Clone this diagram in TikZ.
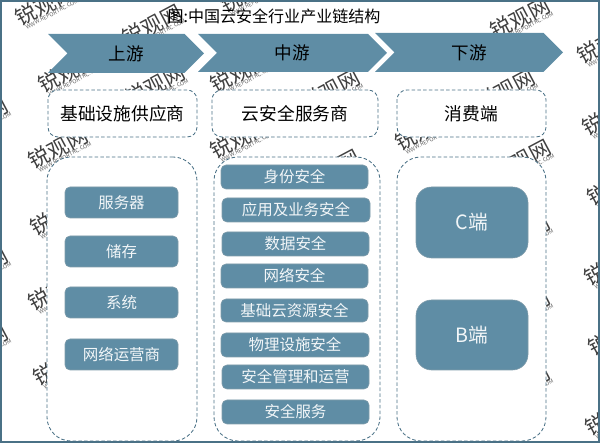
\documentclass[tikz,border=0pt]{standalone}
\usepackage{fontspec}
\usepackage{tikz}
\usetikzlibrary{
	shapes.symbols
}
\setmainfont{Noto Sans CJK SC}
\definecolor{steel}{HTML}{5F8DA5}
\definecolor{edgeblue}{HTML}{4A7186}
\tikzset{
	x=0.025cm,y=-0.025cm,
	stage/.style={signal,signal to=east,signal from=west,fill=steel,inner sep=0pt,font=\fontsize{12.5}{12.5}\selectfont},
	panel/.style={draw=edgeblue,dash pattern=on 2.5pt off 1.6pt,line width=0.6pt,fill=white,rounded corners=7pt,inner sep=0pt},
	tallpanel/.style={panel,rounded corners=17pt},
	item/.style={draw=edgeblue!70,fill=steel,rounded corners=3.5pt,text=white!92!steel,inner sep=0pt,font=\fontsize{11}{11}\selectfont},
	bigitem/.style={item,rounded corners=11pt,font=\fontsize{14}{14}\selectfont},
	wmark/.style={rotate=28,font=\fontsize{15}{15}\selectfont,text=black!75,inner sep=0pt},
	wurl/.style={rotate=28,font=\fontsize{4}{4}\selectfont,text=black!60,inner sep=0pt},
}
\newcommand{\boxat}[7][item]{\node[#1,minimum width=(#4-#2)*0.025cm,minimum height=(#5-#3)*0.025cm] (#6) at ({(#2+#4)/2},{(#3+#5)/2}) {#7};}
\begin{document}
\begin{tikzpicture}
		\useasboundingbox (0,0) rectangle (600,444);
		% watermark
		\foreach \wx/\wy [count=\i] in {45/5,152/25,68/72,58/148,250/-8,240/72,240/138,155/85,520/18,330/90,505/90,425/130,521/160,330/170,607/43,612/115,617/185,614/265,618/335,615/415,520/235,520/310,520/385,60/215,58/290,63/365,-22/118,-22/268,-22/345,245/205,245/280}{
			\node[wmark] (wm\i) at (\wx,\wy) {锐观网};
			\node[wurl] (wu\i) at ([shift={(7,9)}]wm\i.center) {WWW.REPORTRC.COM};
		}
		\draw[edgeblue,line width=1.4pt] (1,1) rectangle (599,442);
		% stages
		\boxat[stage]{48}{34}{204}{73}{up}{上游}
		\boxat[stage]{198}{34}{387}{72}{mid}{中游}
		\boxat[stage]{375}{33}{563}{72}{down}{下游}
		% tier one
		\boxat[panel]{48}{90}{197}{137}{supply}{\fontsize{12.6}{12.6}\selectfont 基础设施供应商}
		\boxat[panel]{212}{90}{378}{137}{service}{\fontsize{12.6}{12.6}\selectfont 云安全服务商}
		\boxat[panel]{397}{90}{546}{137}{consumer}{\fontsize{12.6}{12.6}\selectfont 消费端}
		% tier two
		\boxat[tallpanel]{47}{157}{197}{441}{left}{}
		\boxat[tallpanel]{214}{157}{380}{441}{centre}{}
		\boxat[tallpanel]{397}{157}{546}{441}{right}{}
		% upstream
		\boxat{65}{187}{178}{218}{a1}{服务器}
		\boxat{65}{236}{178}{267}{a2}{储存}
		\boxat{65}{287}{178}{318}{a3}{系统}
		\boxat{65}{339}{178}{370}{a4}{网络运营商}
		% midstream
		\boxat{221}{165}{368}{189}{b1}{身份安全}
		\boxat{222}{198}{370}{222}{b2}{应用及业务安全}
		\boxat{222}{232}{369}{256}{b3}{数据安全}
		\boxat{221}{264}{368}{288}{b4}{网络安全}
		\boxat{221}{299}{368}{322}{b5}{基础云资源安全}
		\boxat{221}{333}{369}{357}{b6}{物理设施安全}
		\boxat{222}{365}{369}{389}{b7}{安全管理和运营}
		\boxat{222}{400}{369}{424}{b8}{安全服务}
		% downstream
		\boxat[bigitem]{416}{187}{528}{258}{c1}{C端}
		\boxat[bigitem]{416}{300}{528}{370}{c2}{B端}
		\node[font=\fontsize{11.4}{11.4}\selectfont] (title) at (274,16) {图:中国云安全行业产业链结构};
\end{tikzpicture}
\end{document}
